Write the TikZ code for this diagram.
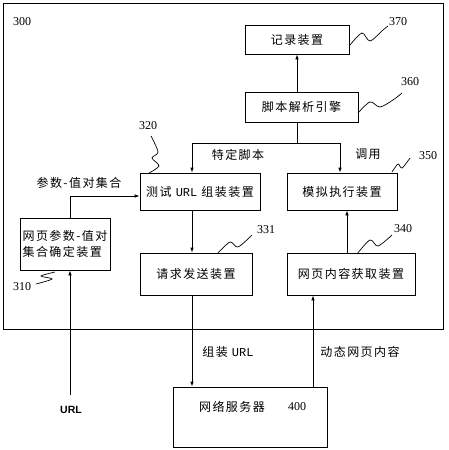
\documentclass[tikz,border=0pt]{standalone}
\usepackage{fontspec}
\setmainfont{Liberation Serif}
\newfontfamily\cjkfont[LetterSpace=12]{Noto Sans CJK SC}
\newfontfamily\monofont{Liberation Mono}
\newfontfamily\sansfont{Liberation Sans}
\usetikzlibrary{arrows.meta}
\newcommand{\cjksize}{\cjkfont\fontsize{12}{16}\selectfont}
\begin{document}
\begin{tikzpicture}[x=1pt,y=-1pt,line width=0.8pt,
  box/.style={draw,inner sep=0pt,font=\cjksize},
  lbl/.style={inner sep=0pt,font=\cjksize},
  num/.style={inner sep=0pt,font=\fontsize{12}{14}\selectfont},
  arr/.style={-{Latex[length=5pt,width=3.6pt]}},
  leader/.style={line width=0.7pt}]
\useasboundingbox (0,0) rectangle (449,450);
% outer frame 300
\draw (3,3) rectangle (443,329);
\node[num] (l300) at (22,22) {300};
% boxes
\node[box,minimum width=104pt,minimum height=29pt] (n370) at (297,39.5) {记录装置};
\node[box,minimum width=113pt,minimum height=30pt] (n360) at (301.5,107) {脚本解析引擎};
\node[box,minimum width=120pt,minimum height=37pt] (n320) at (200,191.5) {测试 {\monofont URL} 组装装置};
\node[box,minimum width=110pt,minimum height=37pt] (n350) at (342,191.5) {模拟执行装置};
\node[box,minimum width=90pt,minimum height=52pt,align=left] (n310) at (65,244) {网页参数-值对\\集合确定装置};
\node[box,minimum width=112pt,minimum height=42pt] (n331) at (196,274) {请求发送装置};
\node[box,minimum width=128pt,minimum height=42pt] (n340) at (351,274) {网页内容获取装置};
\node[draw,inner sep=0pt,minimum width=154pt,minimum height=60pt] (n400) at (250,417) {};
\node[lbl] (t400) at (232,407) {网络服务器};
\node[num] (l400) at (297,407) {400};
% reference numbers
\node[num] (l370) at (398,22) {370};
\node[num] (l360) at (410,82) {360};
\node[num] (l320) at (148,126) {320};
\node[num] (l350) at (428,156) {350};
\node[num] (l331) at (266,230) {331};
\node[num] (l340) at (403,229) {340};
\node[num] (l310) at (22,287) {310};
% leaders
\draw[leader] plot[smooth] coordinates {(350,45) (362,33) (370,41) (383,30) (388,26)};
\draw[leader] plot[smooth] coordinates {(358,113) (370,102) (380,107) (393,100) (402,93)};
\draw[leader] plot[smooth] coordinates {(151,136) (158,152) (152,158) (159,166) (149,173)};
\draw[leader] plot[smooth] coordinates {(392,172) (398,164) (402,168) (410,158)};
\draw[leader] plot[smooth] coordinates {(218,253) (230,242) (238,247) (252,235)};
\draw[leader] plot[smooth] coordinates {(357,254) (370,240) (378,246) (392,235)};
\draw[leader] plot[smooth] coordinates {(36,284) (52,279) (41,276) (55,272)};
% helper coordinates
\coordinate (xa) at (192,0);
\coordinate (xb) at (340,0);
\coordinate (xd) at (313,0);
\coordinate (xe) at (347,0);
\coordinate (xf) at (70,0);
\coordinate (yf) at (0,196);
\coordinate (split) at (297,143);
\coordinate (url) at (70,395);
% connectors
\draw[arr] (n370.south |- n360.north) -- (n370.south);
\draw (n370.south |- n360.south) -- (split);
\draw[arr] (split) -| (xa |- n320.north);
\draw[arr] (split) -| (xb |- n350.north);
\draw[arr] (xa |- n320.south) -- (xa |- n331.north);
\draw[arr] (xa |- n331.south) -- (xa |- n400.north);
\draw[arr] (xd |- n400.north) -- (xd |- n340.south);
\draw[arr] (xe |- n340.north) -- (xe |- n350.south);
\draw[arr] (xf |- n310.north) |- (n320.west |- yf);
\draw[arr] (url) -- (xf |- n310.south);
% connector labels
\node[lbl] (tspec) at (238,155) {特定脚本};
\node[lbl] (tcall) at (368,154) {调用};
\node[lbl] (tpair) at (79,183) {参数-值对集合};
\node[lbl] (tasm) at (228,352) {组装 {\monofont URL}};
\node[lbl] (tdyn) at (360,352) {动态网页内容};
\node[inner sep=0pt,font=\sansfont\bfseries\fontsize{10.5}{12}\selectfont] (turl) at (71,410) {URL};
\end{tikzpicture}
\end{document}
